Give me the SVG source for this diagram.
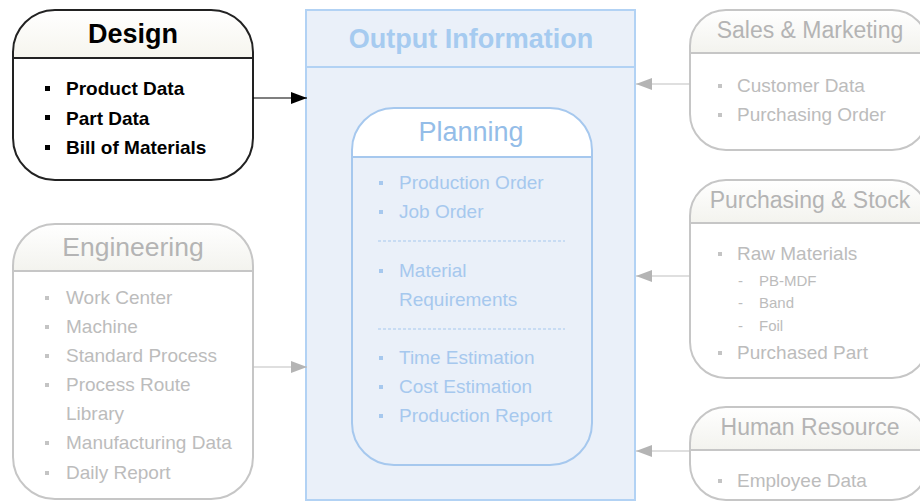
<svg xmlns="http://www.w3.org/2000/svg" width="920" height="504" viewBox="0 0 920 504">
<defs>
<marker id="ab" markerWidth="16" markerHeight="12" refX="16" refY="6" orient="auto" markerUnits="userSpaceOnUse"><path d="M0,0 L16,6 L0,12 Z" fill="#000"/></marker>
<marker id="ag" markerWidth="16" markerHeight="12" refX="16" refY="6" orient="auto" markerUnits="userSpaceOnUse"><path d="M0,0 L16,6 L0,12 Z" fill="#b4b4b4"/></marker>
<linearGradient id="gh" x1="0" y1="0" x2="0" y2="1"><stop offset="0" stop-color="#ffffff"/><stop offset="1" stop-color="#f3f3ee"/></linearGradient>
<linearGradient id="dh" x1="0" y1="0" x2="0" y2="1"><stop offset="0" stop-color="#ffffff"/><stop offset="1" stop-color="#f6f5ee"/></linearGradient>
</defs>
<style>
text{font-family:"Liberation Sans",Arial,sans-serif}
.dt{font-size:27px;font-weight:bold;fill:#000}
.di{font-size:19px;font-weight:bold;fill:#000}
.gt{font-size:26.5px;fill:#b4b4b4}
.gt2{font-size:23px;fill:#b4b4b4}
.gi{font-size:19px;fill:#bcbcbc}
.gs{font-size:15px;fill:#bcbcbc}
.bt{font-size:27px;fill:#94bde8}
.bi{font-size:19px;fill:#a6c8ee}
.ob{font-size:27px;font-weight:bold;fill:#a6cbf0}
.gline{stroke:#c6c6c6;stroke-width:2}
.gb{fill:#c4c4c4}
.bb{fill:#a6c8ee}
.kb{fill:#000}
</style>
<rect width="920" height="504" fill="#fff"/>

<g id="output">
<rect x="306" y="10" width="329" height="490" fill="#eaf0f9" stroke="#b2d2f4" stroke-width="2"/>
<line x1="306" y1="67" x2="635" y2="67" stroke="#b2d2f4" stroke-width="2"/>
<text class="ob" x="471" y="48" text-anchor="middle">Output Information</text>
</g>

<g id="planning">
<path d="M352,157 V150 A42,42 0 0 1 394,108 H550 A42,42 0 0 1 592,150 V157 Z" fill="#ffffff"/>
<rect x="352" y="108" width="240" height="357" rx="42" ry="42" fill="none" stroke="#a6c8ee" stroke-width="2"/>
<line x1="352" y1="157" x2="592" y2="157" stroke="#a6c8ee" stroke-width="2"/>
<text class="bt" x="471" y="141" text-anchor="middle">Planning</text>
<rect class="bb" x="379" y="181" width="4" height="4"/><text class="bi" x="399" y="189">Production Order</text>
<rect class="bb" x="379" y="210" width="4" height="4"/><text class="bi" x="399" y="218">Job Order</text>
<line x1="378" y1="241" x2="565" y2="241" stroke="#a6c8ee" stroke-width="1" stroke-dasharray="3,2"/>
<rect class="bb" x="379" y="269" width="4" height="4"/><text class="bi" x="399" y="277">Material</text>
<text class="bi" x="399" y="306">Requirements</text>
<line x1="378" y1="329" x2="565" y2="329" stroke="#a6c8ee" stroke-width="1" stroke-dasharray="3,2"/>
<rect class="bb" x="379" y="356" width="4" height="4"/><text class="bi" x="399" y="364">Time Estimation</text>
<rect class="bb" x="379" y="385" width="4" height="4"/><text class="bi" x="399" y="393">Cost Estimation</text>
<rect class="bb" x="379" y="414" width="4" height="4"/><text class="bi" x="399" y="422">Production Report</text>
</g>

<g id="design">
<path d="M13,58 V52 A42,42 0 0 1 55,10 H211 A42,42 0 0 1 253,52 V58 Z" fill="url(#dh)"/>
<rect x="13" y="10" width="240" height="170" rx="42" ry="42" fill="none" stroke="#222" stroke-width="2"/>
<line x1="13" y1="58" x2="253" y2="58" stroke="#222" stroke-width="2"/>
<text class="dt" x="133" y="43" text-anchor="middle">Design</text>
<rect class="kb" x="45" y="86" width="5" height="5"/><text class="di" x="66" y="95">Product Data</text>
<rect class="kb" x="45" y="115" width="5" height="5"/><text class="di" x="66" y="125">Part Data</text>
<rect class="kb" x="45" y="145" width="5" height="5"/><text class="di" x="66" y="154">Bill of Materials</text>
</g>

<g id="engineering">
<path d="M13,271 V266 A42,42 0 0 1 55,224 H211 A42,42 0 0 1 253,266 V271 Z" fill="url(#gh)"/>
<rect x="13" y="224" width="240" height="275" rx="42" ry="42" fill="none" stroke="#c6c6c6" stroke-width="2"/>
<line class="gline" x1="13" y1="271" x2="253" y2="271"/>
<text class="gt" x="133" y="256" text-anchor="middle">Engineering</text>
<rect class="gb" x="45" y="296" width="4" height="4"/><text class="gi" x="66" y="304">Work Center</text>
<rect class="gb" x="45" y="325" width="4" height="4"/><text class="gi" x="66" y="333">Machine</text>
<rect class="gb" x="45" y="354" width="4" height="4"/><text class="gi" x="66" y="362">Standard Process</text>
<rect class="gb" x="45" y="383" width="4" height="4"/><text class="gi" x="66" y="391">Process Route</text>
<text class="gi" x="66" y="420">Library</text>
<rect class="gb" x="45" y="441" width="4" height="4"/><text class="gi" x="66" y="449">Manufacturing Data</text>
<rect class="gb" x="45" y="471" width="4" height="4"/><text class="gi" x="66" y="479">Daily Report</text>
</g>

<g id="sales">
<path d="M690,53 V46 A36,36 0 0 1 726,10 H892 A36,36 0 0 1 928,46 V53 Z" fill="url(#gh)"/>
<rect x="690" y="10" width="238" height="140" rx="36" ry="36" fill="none" stroke="#c6c6c6" stroke-width="2"/>
<line class="gline" x1="690" y1="53" x2="928" y2="53"/>
<text class="gt2" x="810" y="38" text-anchor="middle">Sales &amp; Marketing</text>
<rect class="gb" x="718" y="84" width="4" height="4"/><text class="gi" x="737" y="92">Customer Data</text>
<rect class="gb" x="718" y="113" width="4" height="4"/><text class="gi" x="737" y="121">Purchasing Order</text>
</g>

<g id="purchasing">
<path d="M690,223 V216 A36,36 0 0 1 726,180 H892 A36,36 0 0 1 928,216 V223 Z" fill="url(#gh)"/>
<rect x="690" y="180" width="238" height="198" rx="36" ry="36" fill="none" stroke="#c6c6c6" stroke-width="2"/>
<line class="gline" x1="690" y1="223" x2="928" y2="223"/>
<text class="gt2" x="810" y="208" text-anchor="middle">Purchasing &amp; Stock</text>
<rect class="gb" x="718" y="252" width="4" height="4"/><text class="gi" x="737" y="260">Raw Materials</text>
<text class="gs" x="738" y="286">-</text><text class="gs" x="759" y="286">PB-MDF</text>
<text class="gs" x="738" y="308">-</text><text class="gs" x="759" y="308">Band</text>
<text class="gs" x="738" y="331">-</text><text class="gs" x="759" y="331">Foil</text>
<rect class="gb" x="718" y="351" width="4" height="4"/><text class="gi" x="737" y="359">Purchased Part</text>
</g>

<g id="hr">
<path d="M690,450 V443 A36,36 0 0 1 726,407 H892 A36,36 0 0 1 928,443 V450 Z" fill="url(#gh)"/>
<rect x="690" y="407" width="238" height="93" rx="36" ry="36" fill="none" stroke="#c6c6c6" stroke-width="2"/>
<line class="gline" x1="690" y1="450" x2="928" y2="450"/>
<text class="gt2" x="810" y="435" text-anchor="middle">Human Resource</text>
<rect class="gb" x="718" y="479" width="4" height="4"/><text class="gi" x="737" y="487">Employee Data</text>
</g>

<g id="connectors">
<line x1="253" y1="98" x2="307" y2="98" stroke="#000" stroke-width="1.2" marker-end="url(#ab)"/>
<line x1="253" y1="367" x2="307" y2="367" stroke="#c0c0c0" stroke-width="1.2" marker-end="url(#ag)"/>
<line x1="690" y1="84" x2="636" y2="84" stroke="#c0c0c0" stroke-width="1.2" marker-end="url(#ag)"/>
<line x1="690" y1="276" x2="636" y2="276" stroke="#c0c0c0" stroke-width="1.2" marker-end="url(#ag)"/>
<line x1="690" y1="451" x2="636" y2="451" stroke="#c0c0c0" stroke-width="1.2" marker-end="url(#ag)"/>
</g>
</svg>
